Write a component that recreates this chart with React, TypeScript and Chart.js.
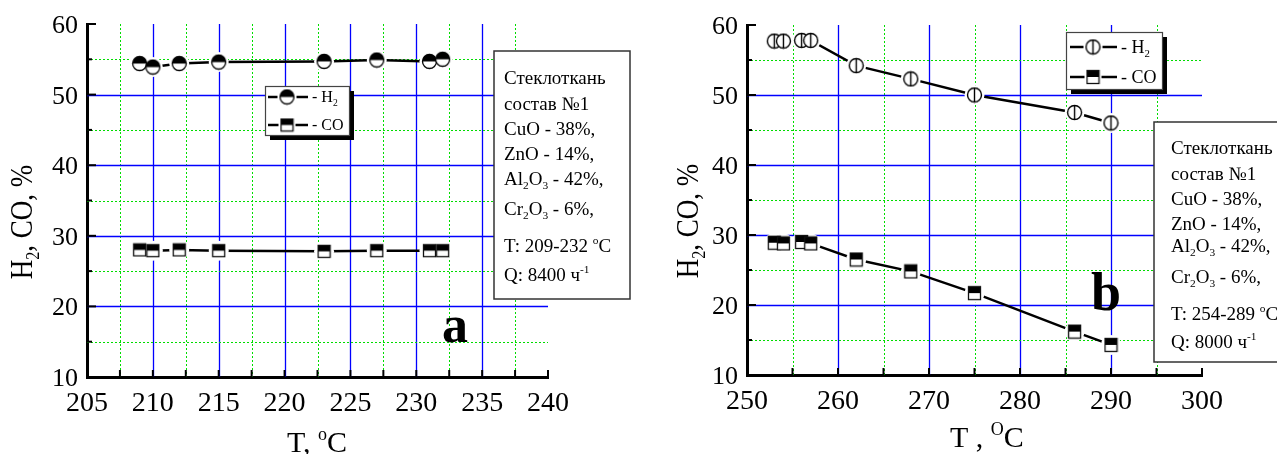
import React, { useEffect, useRef } from 'react';
import { Chart, registerables } from 'chart.js';

Chart.register(...registerables);

const SERIF = "'Liberation Serif', 'Times New Roman', Times, serif";
Chart.defaults.font.family = SERIF;
const BLUE = '#0000ff';
const GREEN = '#00dd00';

// ---- Panel a data ----
const tempA = [209, 210, 212, 215, 223, 227, 231, 232];
const h2A = [54.4, 53.9, 54.4, 54.6, 54.7, 54.9, 54.7, 55.0];
const coA = [28.0, 27.9, 28.0, 27.9, 27.8, 27.9, 27.9, 27.9];
const xLabelsA = [205, 210, 215, 220, 225, 230, 235, 240];

// ---- Panel b data ----
const tempB = [253, 254, 256, 257, 262, 268, 275, 286, 290];
const h2B = [57.7, 57.7, 57.8, 57.8, 54.2, 52.3, 50.0, 47.5, 46.0];
const coB = [28.9, 28.8, 29.0, 28.8, 26.5, 24.8, 21.7, 16.2, 14.3];
const xLabelsB = [250, 260, 270, 280, 290, 300];

const yLabels = [10, 20, 30, 40, 50, 60];

type Part = [string, 'n' | 'b' | 'p'];

const yTitle: Part[] = [['H', 'n'], ['2', 'b'], [', CO, %', 'n']];
const xTitleA: Part[] = [['T, ', 'n'], ['o', 'p'], ['C', 'n']];
const xTitleB: Part[] = [['T , ', 'n'], ['O', 'p'], ['C', 'n']];
const legendH2: Part[] = [['- H', 'n'], ['2', 'b']];
const legendCO: Part[] = [['- CO', 'n']];

const infoA: Part[][] = [
  [['Стеклоткань', 'n']],
  [['состав №1', 'n']],
  [['CuO - 38%,', 'n']],
  [['ZnO - 14%,', 'n']],
  [['Al', 'n'], ['2', 'b'], ['O', 'n'], ['3', 'b'], [' - 42%,', 'n']],
  [['Cr', 'n'], ['2', 'b'], ['O', 'n'], ['3', 'b'], [' - 6%,', 'n']],
  [['T: 209-232 ', 'n'], ['o', 'p'], ['C', 'n']],
  [['Q: 8400 ч', 'n'], ['-1', 'p']],
];
const infoB: Part[][] = [
  [['Стеклоткань', 'n']],
  [['состав №1', 'n']],
  [['CuO - 38%,', 'n']],
  [['ZnO - 14%,', 'n']],
  [['Al', 'n'], ['2', 'b'], ['O', 'n'], ['3', 'b'], [' - 42%,', 'n']],
  [['Cr', 'n'], ['2', 'b'], ['O', 'n'], ['3', 'b'], [' - 6%,', 'n']],
  [['T: 254-289 ', 'n'], ['o', 'p'], ['C', 'n']],
  [['Q: 8000 ч', 'n'], ['-1', 'p']],
];

function font(size: number, bold = false) {
  return `${bold ? 'bold ' : ''}${size}px ${SERIF}`;
}

function drawRich(ctx: CanvasRenderingContext2D, parts: Part[], x: number, y: number, size: number, align: 'left' | 'center' | 'right' = 'left') {
  const sm = size * 0.6;
  let total = 0;
  const widths = parts.map(([t, m]) => {
    ctx.font = font(m === 'n' ? size : sm);
    const w = ctx.measureText(t).width;
    total += w;
    return w;
  });
  let cx = align === 'center' ? x - total / 2 : align === 'right' ? x - total : x;
  ctx.textAlign = 'left';
  ctx.textBaseline = 'alphabetic';
  ctx.fillStyle = '#000';
  parts.forEach(([t, m], i) => {
    ctx.font = font(m === 'n' ? size : sm);
    const dy = m === 'b' ? size * 0.22 : m === 'p' ? -size * 0.4 : 0;
    ctx.fillText(t, cx, y + dy);
    cx += widths[i];
  });
}

function makeCanvas(w: number, h: number) {
  const c = document.createElement('canvas');
  c.width = w;
  c.height = h;
  return c;
}

function halfCircle(r: number) {
  const s = Math.ceil(2 * r + 3);
  const c = makeCanvas(s, s);
  const g = c.getContext('2d')!;
  const m = s / 2;
  g.beginPath(); g.arc(m, m, r, 0, Math.PI * 2); g.fillStyle = '#fff'; g.fill();
  g.beginPath(); g.arc(m, m, r, Math.PI, Math.PI * 2); g.closePath(); g.fillStyle = '#000'; g.fill();
  g.beginPath(); g.arc(m, m, r, 0, Math.PI * 2); g.lineWidth = 1.3; g.strokeStyle = '#000'; g.stroke();
  return c;
}

function halfSquare(w: number, h: number) {
  const c = makeCanvas(Math.ceil(w + 3), Math.ceil(h + 3));
  const g = c.getContext('2d')!;
  const x0 = 1.5, y0 = 1.5;
  g.fillStyle = '#fff'; g.fillRect(x0, y0, w, h);
  g.fillStyle = '#000'; g.fillRect(x0, y0, w, h * 0.5);
  g.lineWidth = 1.3; g.strokeStyle = '#111'; g.strokeRect(x0, y0, w, h);
  return c;
}

function phiCircle(r: number) {
  const s = Math.ceil(2 * r + 3);
  const c = makeCanvas(s, s);
  const g = c.getContext('2d')!;
  const m = s / 2;
  g.beginPath(); g.arc(m, m, r, 0, Math.PI * 2); g.fillStyle = '#fff'; g.fill();
  g.lineWidth = 1.4; g.strokeStyle = '#000'; g.stroke();
  g.beginPath(); g.moveTo(m, m - r); g.lineTo(m, m + r); g.stroke();
  return c;
}

const near = (a: number, b: number) => Math.abs(a - b) < 1e-6;
const inList = (v: number, list: number[]) => list.some((l) => near(l, v));

const gridPlugin = {
  id: 'customGrid',
  beforeDatasetsDraw(chart: any, _args: any, opts: any) {
    const { ctx, chartArea: a, scales } = chart;
    const x = scales.x, y = scales.y;
    ctx.save();
    for (const t of x.ticks) {
      const v = t.value;
      if (near(v, x.min) || near(v, x.max)) continue;
      const px = Math.round(x.getPixelForValue(v)) + 0.5;
      const major = inList(v, opts.xLabels);
      ctx.strokeStyle = major ? BLUE : GREEN;
      ctx.lineWidth = major ? 1.3 : 1;
      ctx.setLineDash(major ? [] : [2, 2]);
      ctx.beginPath(); ctx.moveTo(px, a.top); ctx.lineTo(px, a.bottom); ctx.stroke();
    }
    for (const t of y.ticks) {
      const v = t.value;
      if (near(v, y.min) || near(v, y.max)) continue;
      const py = Math.round(y.getPixelForValue(v)) + 0.5;
      const major = inList(v, opts.yLabels);
      ctx.strokeStyle = major ? BLUE : GREEN;
      ctx.lineWidth = major ? 1.3 : 1;
      ctx.setLineDash(major ? [] : [2, 2]);
      ctx.beginPath(); ctx.moveTo(a.left, py); ctx.lineTo(a.right, py); ctx.stroke();
    }
    ctx.setLineDash([]);
    ctx.strokeStyle = '#000';
    ctx.lineWidth = 2;
    for (const t of x.ticks) {
      const px = x.getPixelForValue(t.value);
      ctx.beginPath(); ctx.moveTo(px, a.bottom); ctx.lineTo(px, a.bottom - 7); ctx.stroke();
    }
    for (const t of y.ticks) {
      const py = y.getPixelForValue(t.value);
      const len = inList(t.value, opts.yLabels) ? 9 : 5;
      ctx.beginPath(); ctx.moveTo(a.left, py); ctx.lineTo(a.left + len, py); ctx.stroke();
    }
    ctx.restore();
  },
};

const annotPlugin = {
  id: 'annot',
  afterDraw(chart: any, _args: any, opts: any) {
    const ctx = chart.ctx as CanvasRenderingContext2D;
    const { chartArea: a, scales } = chart;
    const x = scales.x, y = scales.y;
    ctx.save();
    // tick labels (serif) placed through the library's scales
    for (const t of x.ticks) {
      if (!inList(t.value, opts.xLabels)) continue;
      drawRich(ctx, [[String(t.value), 'n']], x.getPixelForValue(t.value), a.bottom + 34, 28, 'center');
    }
    for (const t of y.ticks) {
      if (!inList(t.value, opts.yLabels)) continue;
      drawRich(ctx, [[String(t.value), 'n']], a.left - 9, y.getPixelForValue(t.value) + 9, 26, 'right');
    }
    opts.draw(ctx);
    ctx.restore();
  },
};

function drawLegend(ctx: CanvasRenderingContext2D, bx: number, by: number, bw: number, bh: number,
  rows: { y: number; marker: HTMLCanvasElement; label: Part[] }[], l1: number, l2: number, mx: number, tx: number, size: number) {
  ctx.fillStyle = '#000';
  ctx.fillRect(bx + 5, by + 5, bw, bh);
  ctx.fillStyle = '#fff';
  ctx.fillRect(bx, by, bw, bh);
  ctx.lineWidth = 1.2;
  ctx.strokeStyle = '#444';
  ctx.strokeRect(bx + 0.5, by + 0.5, bw, bh);
  for (const r of rows) {
    const hw = r.marker.width / 2;
    ctx.strokeStyle = '#000';
    ctx.lineWidth = 2.5;
    ctx.beginPath(); ctx.moveTo(l1, r.y); ctx.lineTo(mx - hw - 1, r.y); ctx.stroke();
    ctx.beginPath(); ctx.moveTo(mx + hw + 1, r.y); ctx.lineTo(l2, r.y); ctx.stroke();
    ctx.drawImage(r.marker, mx - r.marker.width / 2, r.y - r.marker.height / 2);
    drawRich(ctx, r.label, tx, r.y + size * 0.33, size);
  }
}

function drawInfo(ctx: CanvasRenderingContext2D, bx: number, by: number, bw: number, bh: number, lines: Part[][], tx: number, baselines: number[], size: number) {
  ctx.fillStyle = '#fff';
  ctx.fillRect(bx, by, bw, bh);
  ctx.lineWidth = 1.5;
  ctx.strokeStyle = '#333';
  ctx.strokeRect(bx, by, bw, bh);
  lines.forEach((ln, i) => drawRich(ctx, ln, tx, baselines[i], size));
}

function drawYTitle(ctx: CanvasRenderingContext2D, cx: number, cy: number, size: number) {
  ctx.save();
  ctx.translate(cx, cy);
  ctx.rotate(-Math.PI / 2);
  ctx.scale(1, 1.15);
  drawRich(ctx, yTitle, 0, size * 0.33, size, 'center');
  ctx.restore();
}

function seriesSets(xs: number[], ys: number[], marker: HTMLCanvasElement, haloR: number) {
  const data = xs.map((x, i) => ({ x, y: ys[i] }));
  return [
    { data, borderColor: '#000', borderWidth: 2.5, pointRadius: 0, order: 2, tension: 0, fill: false },
    { data, showLine: false, pointRadius: haloR, pointBackgroundColor: '#fff', pointBorderColor: '#fff', pointBorderWidth: 0, order: 1 },
    { data, showLine: false, pointStyle: marker, pointRadius: 7, order: 0 },
  ];
}

type PanelCfg = {
  xs: number[]; h2: number[]; co: number[];
  xMin: number; xMax: number; xStep: number; xLabels: number[];
  h2Marker: HTMLCanvasElement; coMarker: HTMLCanvasElement; haloR: number;
  padding: { left: number; right: number; top: number; bottom: number };
  draw: (ctx: CanvasRenderingContext2D) => void;
};

function buildChart(canvas: HTMLCanvasElement, p: PanelCfg) {
  return new Chart(canvas, {
    type: 'line',
    data: {
      datasets: [
        ...seriesSets(p.xs, p.h2, p.h2Marker, p.haloR),
        ...seriesSets(p.xs, p.co, p.coMarker, p.haloR),
      ] as any,
    },
    options: {
      animation: false,
      responsive: false,
      events: [],
      layout: { padding: p.padding },
      plugins: {
        legend: { display: false },
        tooltip: { enabled: false },
        customGrid: { xLabels: p.xLabels, yLabels },
        annot: { draw: p.draw, xLabels: p.xLabels, yLabels },
      } as any,
      scales: {
        x: {
          type: 'linear',
          min: p.xMin,
          max: p.xMax,
          grid: { display: false, drawTicks: false },
          border: { display: true, color: '#000', width: 3 },
          ticks: {
            display: false,
            stepSize: p.xStep,
            autoSkip: false,
            maxRotation: 0,
            minRotation: 0,
          },
          afterFit: (s: any) => { s.height = 60; },
        },
        y: {
          type: 'linear',
          min: 10,
          max: 60,
          grid: { display: false, drawTicks: false },
          border: { display: true, color: '#000', width: 3 },
          ticks: {
            display: false,
            stepSize: 5,
            autoSkip: false,
          },
          afterFit: (s: any) => { s.width = 60; },
        },
      },
    } as any,
    plugins: [gridPlugin, annotPlugin] as any,
  });
}

export default function App() {
  const refA = useRef<HTMLCanvasElement>(null);
  const refB = useRef<HTMLCanvasElement>(null);

  useEffect(() => {
    const mkHalfCircle = halfCircle(7);
    const mkSquareA = halfSquare(12, 12);
    const mkPhi = phiCircle(7);
    const mkSquareB = halfSquare(12, 13);

    const chartA = buildChart(refA.current!, {
      xs: tempA, h2: h2A, co: coA,
      xMin: 205, xMax: 240, xStep: 2.5, xLabels: xLabelsA,
      h2Marker: mkHalfCircle, coMarker: mkSquareA, haloR: 10,
      padding: { left: 27, right: 92, top: 24, bottom: 17 },
      draw: (ctx) => {
        drawYTitle(ctx, 22, 222, 27);
        drawRich(ctx, xTitleA, 287, 452, 30);
        drawLegend(ctx, 265, 86, 84, 49, [
          { y: 97, marker: mkHalfCircle, label: legendH2 },
          { y: 125, marker: mkSquareA, label: legendCO },
        ], 268, 308, 287, 312, 16);
        drawInfo(ctx, 494, 51, 136, 248, infoA, 504, [84, 110, 135, 160, 185, 215, 252, 281], 19);
        ctx.fillStyle = '#000';
        ctx.font = font(52, true);
        ctx.textAlign = 'left';
        ctx.textBaseline = 'alphabetic';
        ctx.fillText('a', 442, 342);
      },
    });

    const chartB = buildChart(refB.current!, {
      xs: tempB, h2: h2B, co: coB,
      xMin: 250, xMax: 300, xStep: 5, xLabels: xLabelsB,
      h2Marker: mkPhi, coMarker: mkSquareB, haloR: 10,
      padding: { left: 47, right: 75, top: 25, bottom: 19 },
      draw: (ctx) => {
        drawYTitle(ctx, 48, 221, 27);
        drawRich(ctx, xTitleB, 310, 447, 30);
        drawLegend(ctx, 426, 32, 96, 57, [
          { y: 47, marker: mkPhi, label: legendH2 },
          { y: 77, marker: mkSquareB, label: legendCO },
        ], 430, 477, 453, 481, 18);
        drawInfo(ctx, 514, 122, 140, 240, infoB, 531, [154, 180, 205, 230, 252, 283, 320, 348], 19);
        ctx.fillStyle = '#000';
        ctx.font = font(54, true);
        ctx.textAlign = 'left';
        ctx.textBaseline = 'alphabetic';
        ctx.fillText('b', 451, 310);
      },
    });

    return () => {
      chartA.destroy();
      chartB.destroy();
    };
  }, []);

  return (
    <div style={{ position: 'absolute', left: 0, top: 0, width: 1277, height: 454, background: '#fff' }}>
      <canvas ref={refA} width={640} height={454} style={{ position: 'absolute', left: 0, top: 0 }} />
      <canvas ref={refB} width={637} height={454} style={{ position: 'absolute', left: 640, top: 0 }} />
    </div>
  );
}
